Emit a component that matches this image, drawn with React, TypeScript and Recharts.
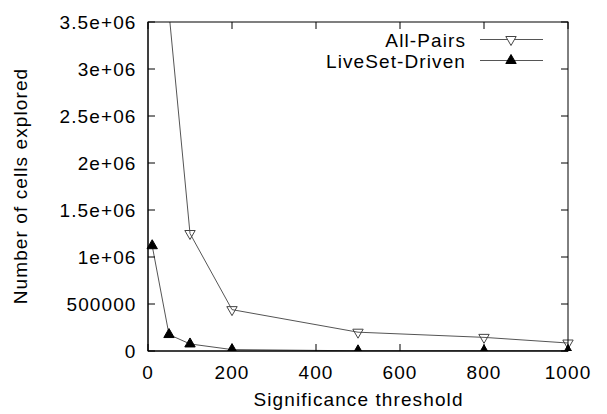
import React from 'react';
import { LineChart, Line, XAxis, YAxis } from 'recharts';

const thresholds = [10, 50, 100, 200, 500, 800, 1000];
const allPairs: (number | null)[] = [null, 3600000, 1250000, 440000, 200000, 145000, 85000];
const liveSetDriven = [1120000, 175000, 75000, 15000, 2000, 1500, 1000];

const xTicks = [0, 200, 400, 600, 800, 1000];
const yTicks = [0, 500000, 1000000, 1500000, 2000000, 2500000, 3000000, 3500000];
const yTickLabels = ['0', '500000', '1e+06', '1.5e+06', '2e+06', '2.5e+06', '3e+06', '3.5e+06'];
const seriesNames = ['All-Pairs', 'LiveSet-Driven'];
const xLabel = 'Significance threshold';
const yLabel = 'Number of cells explored';

const X_MAX = 1000;
const Y_MAX = 3500000;

const data = thresholds.map((x, i) => ({ x, allPairs: allPairs[i], liveSet: liveSetDriven[i] }));

// layout
const CHART_W = 607;
const CHART_H = 414;
const M_TOP = 22;
const M_RIGHT = 39;
const Y_AXIS_W = 148;
const X_AXIS_H = 63;
const PLOT_L = Y_AXIS_W;
const PLOT_R = CHART_W - M_RIGHT;
const PLOT_T = M_TOP;
const PLOT_B = CHART_H - X_AXIS_H;
const TICK_LEN = 7;

const FONT = '"Liberation Sans", Arial, Helvetica, sans-serif';
const FS = 19;
const LS = 1.1;
const LINE_COLOR = '#555';

const downTri = (cx: number, cy: number) =>
  `M${cx - 5.2},${cy - 3}L${cx + 5.2},${cy - 3}L${cx},${cy + 6}Z`;
const upTri = (cx: number, cy: number) =>
  `M${cx - 5.2},${cy + 3}L${cx + 5.2},${cy + 3}L${cx},${cy - 6}Z`;

const TriangleDot = (props: any) => {
  const { cx, cy, value, variant } = props;
  if (value == null || value > Y_MAX || cx == null || cy == null) return null;
  return variant === 'down' ? (
    <path d={downTri(cx, cy)} fill="none" stroke="#444" strokeWidth={1} />
  ) : (
    <path d={upTri(cx, cy)} fill="#000" stroke="#000" strokeWidth={1} />
  );
};

const textStyle = { fontFamily: FONT, fontSize: FS, letterSpacing: LS, fill: '#000' } as const;
const frame = { stroke: '#000', strokeWidth: 1 };

const xPix = (t: number) => PLOT_L + (t / X_MAX) * (PLOT_R - PLOT_L);
const yPix = (t: number) => PLOT_B - (t / Y_MAX) * (PLOT_B - PLOT_T);

const Overlay = () => (
  <svg width={CHART_W} height={CHART_H} style={{ position: 'absolute', left: 0, top: 0, pointerEvents: 'none' }}>
    {/* border box with inward mirrored tick marks */}
    <rect x={PLOT_L} y={PLOT_T} width={PLOT_R - PLOT_L} height={PLOT_B - PLOT_T} fill="none" stroke="#000" strokeWidth={1} />
    {xTicks.map((t) => (
      <g key={`xt-${t}`}>
        <line x1={xPix(t)} y1={PLOT_B} x2={xPix(t)} y2={PLOT_B - TICK_LEN} stroke="#000" strokeWidth={1} />
        <line x1={xPix(t)} y1={PLOT_T} x2={xPix(t)} y2={PLOT_T + TICK_LEN} stroke="#000" strokeWidth={1} />
      </g>
    ))}
    {yTicks.map((t) => (
      <g key={`yt-${t}`}>
        <line x1={PLOT_L} y1={yPix(t)} x2={PLOT_L + TICK_LEN} y2={yPix(t)} stroke="#000" strokeWidth={1} />
        <line x1={PLOT_R} y1={yPix(t)} x2={PLOT_R - TICK_LEN} y2={yPix(t)} stroke="#000" strokeWidth={1} />
      </g>
    ))}
    <text x={358.5} y={406} textAnchor="middle" style={textStyle}>
      {xLabel}
    </text>
    <text x={27} y={186} textAnchor="middle" transform="rotate(-90 27 186)" style={textStyle}>
      {yLabel}
    </text>
    <text x={466} y={46.5} textAnchor="end" style={textStyle}>
      {seriesNames[0]}
    </text>
    <line x1={480} y1={39.5} x2={543} y2={39.5} stroke={LINE_COLOR} strokeWidth={1} />
    <path d={downTri(511, 39.5)} fill="#fff" stroke="#444" strokeWidth={1} />
    <text x={466} y={67.5} textAnchor="end" style={textStyle}>
      {seriesNames[1]}
    </text>
    <line x1={480} y1={60.5} x2={543} y2={60.5} stroke={LINE_COLOR} strokeWidth={1} />
    <path d={upTri(511, 60.5)} fill="#000" stroke="#000" strokeWidth={1} />
  </svg>
);

export default function App() {
  return (
    <div style={{ position: 'absolute', left: 0, top: 0, width: CHART_W, height: CHART_H, background: '#fff' }}>
      <LineChart width={CHART_W} height={CHART_H} data={data} margin={{ top: M_TOP, right: M_RIGHT, left: 0, bottom: 0 }}>
        <XAxis
          dataKey="x"
          type="number"
          domain={[0, X_MAX]}
          ticks={xTicks}
          interval={0}
          height={X_AXIS_H}
          tickSize={0}
          tickMargin={15}
          axisLine={frame}
          tickLine={false}
          tick={{ ...textStyle }}
        />
        <YAxis
          type="number"
          domain={[0, Y_MAX]}
          ticks={yTicks}
          interval={0}
          allowDataOverflow
          width={Y_AXIS_W}
          tickSize={0}
          tickMargin={11.5}
          axisLine={frame}
          tickLine={false}
          tick={{ ...textStyle }}
          tickFormatter={(v: number, i: number) => yTickLabels[i] ?? String(v)}
        />
        <Line
          type="linear"
          dataKey="allPairs"
          stroke={LINE_COLOR}
          strokeWidth={1}
          dot={<TriangleDot variant="down" />}
          isAnimationActive={false}
        />
        <Line
          type="linear"
          dataKey="liveSet"
          stroke={LINE_COLOR}
          strokeWidth={1}
          dot={<TriangleDot variant="up" />}
          isAnimationActive={false}
        />
      </LineChart>
      <Overlay />
    </div>
  );
}
